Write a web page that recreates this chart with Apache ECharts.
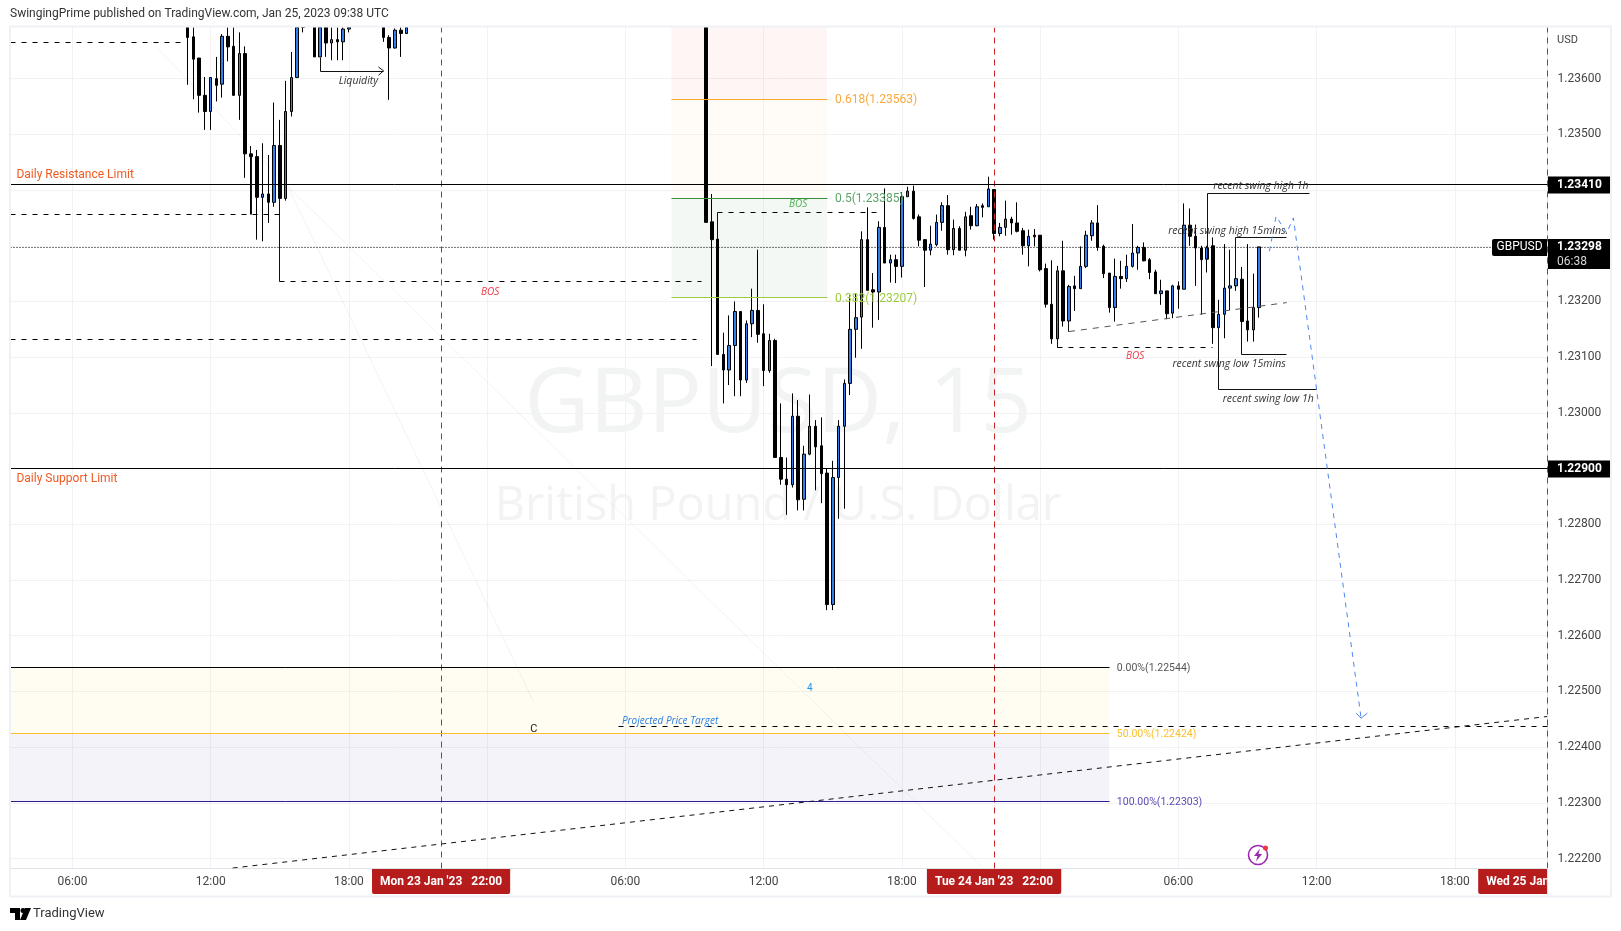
<!DOCTYPE html>
<html><head><meta charset="utf-8">
<style>html,body{margin:0;padding:0;background:#fff}#c{width:1621px;height:931px}</style>
<script src="https://cdn.jsdelivr.net/npm/echarts@6/dist/echarts.min.js"></script>
</head><body><div id="c"></div>
<script>
// x values are hours after Mon 23 Jan 2023 00:00; rows: [hour, open, close, low, high]
// prices that run off the top of the picture are held at the top of the visible range
const candlesLeft = [
[11,1.23692,1.23674,1.23589,1.23692],[11.25,1.23675,1.23635,1.23563,1.23692],[11.5,1.23637,1.2357,1.23539,1.23637],
[11.75,1.2357,1.23541,1.23508,1.23603],[12,1.23541,1.23602,1.23508,1.23602],[12.25,1.236,1.23588,1.23559,1.23639],
[12.5,1.2359,1.23676,1.23566,1.2368],[12.75,1.23676,1.23657,1.23631,1.23692],[13,1.23658,1.2357,1.2357,1.23692],
[13.25,1.2357,1.23645,1.23526,1.23683],[13.5,1.23645,1.23465,1.23422,1.23658],[13.75,1.23465,1.2346,1.23356,1.23479],
[14,1.2346,1.23387,1.23311,1.23472],[14.25,1.23387,1.23393,1.23308,1.23484],[14.5,1.23393,1.23378,1.23341,1.23463],
[14.75,1.23378,1.2348,1.2337,1.23557],[15,1.2348,1.23385,1.23382,1.23526],[15.25,1.23385,1.23541,1.23381,1.23596],
[15.5,1.23541,1.23602,1.23532,1.23648],[15.75,1.23602,1.23692,1.23601,1.23692],[16,1.23692,1.23692,1.23683,1.23692],
[16.5,1.23692,1.23639,1.23639,1.23692],[16.75,1.23639,1.23692,1.23639,1.23692],[17,1.23692,1.23664,1.23639,1.23692],
[17.25,1.23664,1.2367,1.23633,1.23692],[17.5,1.2367,1.23666,1.23633,1.23692],[17.75,1.23666,1.23689,1.23633,1.23692],
[18,1.23689,1.23692,1.23683,1.23692],[19.5,1.23692,1.23674,1.23666,1.23692],[19.75,1.23674,1.23655,1.23562,1.23678],
[20,1.23655,1.23687,1.23654,1.2369],[20.25,1.23687,1.23681,1.23639,1.23692],[20.5,1.23681,1.23692,1.2368,1.23692]
];
const candlesMiddle = [
[33.5,1.23692,1.23342,1.23342,1.23692],[33.75,1.23343,1.23311,1.23084,1.23393],[34,1.23312,1.23105,1.23105,1.23312],
[34.25,1.23105,1.23077,1.23017,1.23144],[34.5,1.23077,1.23121,1.2305,1.23175],[34.75,1.23121,1.23182,1.2303,1.232],
[35,1.23182,1.23059,1.2303,1.23182],[35.25,1.23059,1.2316,1.23054,1.23166],[35.5,1.2316,1.23184,1.23136,1.23223],
[35.75,1.23184,1.23141,1.23126,1.23293],[36,1.23142,1.23076,1.23048,1.23195],[36.25,1.23076,1.2313,1.23072,1.23142],
[36.5,1.2313,1.2292,1.2292,1.23133],[36.75,1.2292,1.22881,1.22871,1.23017],[37,1.22881,1.22871,1.22817,1.2292],
[37.25,1.22871,1.22994,1.22866,1.23035],[37.5,1.22994,1.22844,1.22825,1.23023],[37.75,1.22845,1.22926,1.22825,1.22941],
[38,1.22926,1.22976,1.22924,1.23033],[38.25,1.22976,1.22939,1.22861,1.22987],[38.5,1.22941,1.22891,1.22838,1.22992],
[38.75,1.22892,1.22656,1.22646,1.22901],[39,1.22656,1.22884,1.22646,1.22914],[39.25,1.22884,1.22976,1.2281,1.22987],
[39.5,1.22976,1.23053,1.22828,1.2306],[39.75,1.23053,1.2315,1.23032,1.23211],[40,1.2315,1.23171,1.23099,1.23214],
[40.25,1.23172,1.23311,1.23115,1.23326],[40.5,1.23311,1.2322,1.2322,1.23369],[40.75,1.23221,1.23217,1.23153,1.23251],
[41,1.23217,1.23333,1.23167,1.23344],[41.25,1.23333,1.23269,1.23269,1.23403],[41.5,1.23269,1.23275,1.23234,1.23284],
[41.75,1.23275,1.23263,1.23233,1.23284],[42,1.23263,1.23388,1.23243,1.23396],[42.25,1.23388,1.23398,1.23388,1.23406],
[42.5,1.23398,1.23349,1.23347,1.23408],[42.75,1.23352,1.2331,1.23299,1.23356],[43,1.23311,1.23292,1.23226,1.23312],
[43.25,1.23292,1.23303,1.23283,1.23336],[43.5,1.23302,1.23342,1.23299,1.23356],[43.75,1.23342,1.23372,1.23327,1.23378],
[44,1.23372,1.23293,1.23284,1.23391],[44.25,1.23293,1.23331,1.23283,1.23347],[44.5,1.23331,1.23292,1.23292,1.23335],
[44.75,1.23292,1.23352,1.23281,1.23361],[45,1.23354,1.23336,1.23329,1.2337],[45.25,1.23336,1.2337,1.23335,1.23375],
[45.5,1.23372,1.23369,1.23351,1.23376],[45.75,1.2337,1.23402,1.2337,1.23424]
];
const candlesRight = [
[46,1.23401,1.23322,1.23311,1.23401],[46.25,1.23322,1.23333,1.23317,1.23341],[46.5,1.23333,1.23348,1.23318,1.23381],
[46.75,1.23348,1.23341,1.2332,1.23352],[47,1.23341,1.23326,1.23324,1.23378],[47.25,1.23327,1.233,1.23284,1.23332],
[47.5,1.233,1.23317,1.23263,1.23329],[47.75,1.23319,1.23316,1.23299,1.2333],[48,1.23319,1.23257,1.23254,1.23319],
[48.25,1.23259,1.23195,1.23189,1.23268],[48.5,1.23195,1.23133,1.23124,1.23274],[48.75,1.23133,1.23255,1.23118,1.23264],
[49,1.23255,1.23165,1.23155,1.23309],[49.25,1.23165,1.23227,1.23146,1.2323],[49.5,1.23228,1.23223,1.23183,1.23246],
[49.75,1.23223,1.23263,1.23223,1.23299],[50,1.23263,1.23319,1.2326,1.23327],[50.25,1.23318,1.23341,1.23309,1.23346],
[50.5,1.23341,1.23297,1.23291,1.23373],[50.75,1.23299,1.2325,1.23242,1.23302],[51,1.23251,1.23189,1.2318,1.23251],
[51.25,1.23189,1.23245,1.23164,1.23277],[51.5,1.23245,1.23241,1.23223,1.23273],[51.75,1.23241,1.23263,1.23235,1.23284],
[52,1.23263,1.23287,1.23261,1.23339],[52.25,1.23287,1.23297,1.23257,1.233],[52.5,1.23297,1.23273,1.23272,1.23306],
[52.75,1.23275,1.23252,1.2324,1.23278],[53,1.23253,1.23214,1.23214,1.23257],[53.25,1.23214,1.23219,1.23194,1.23239],
[53.5,1.23219,1.23178,1.23168,1.23219],[53.75,1.23179,1.23228,1.2317,1.2323],[54,1.23228,1.23222,1.23187,1.23236],
[54.25,1.23222,1.23337,1.23222,1.23376],[54.5,1.23337,1.23317,1.233,1.23367],[54.75,1.23317,1.23296,1.23228,1.23338],
[55,1.23296,1.23275,1.23177,1.233],[55.25,1.23276,1.23296,1.23252,1.233],[55.5,1.233,1.23153,1.23124,1.23315],
[55.75,1.23153,1.23177,1.23132,1.23203],[56,1.23177,1.23224,1.23134,1.23303],[56.25,1.23224,1.23228,1.23184,1.23293],
[56.5,1.23228,1.23241,1.23219,1.23241],[56.75,1.2324,1.23164,1.23164,1.23262],[57,1.23165,1.23149,1.23128,1.23303],
[57.25,1.23149,1.23189,1.23128,1.2325],[57.5,1.23189,1.23298,1.23171,1.23298]
];

const X_MIN = 3.29, X_MAX = 70.02, Y_MIN = 1.221831, Y_MAX = 1.236927;
const priceTicks = [1.222,1.223,1.224,1.225,1.226,1.227,1.228,1.229,1.23,1.231,1.232,1.233,1.234,1.235,1.236];
const gridHours = [6,12,18,24,30,36,42,48,54,60,66];
const timeLabels = {6:'06:00',12:'12:00',18:'18:00',22:"Mon 23 Jan '23   22:00",30:'06:00',36:'12:00',42:'18:00',46:"Tue 24 Jan '23   22:00",54:'06:00',60:'12:00',66:'18:00',70:"Wed 25 Jan '23   22:00"};
const sessionHours = [22,46,70];
const resistance = 1.2341, support = 1.229, lastPrice = 1.23298;

// [h0, h1, pTop, pBottom]
const fibZones = [[32,38.75,Y_MAX,1.23563],[32,38.75,1.23563,1.23385],[32,38.75,1.23385,1.23207],
                  [X_MIN,51,1.22544,1.22424],[X_MIN,51,1.22424,1.22303]];
const fibZoneColors = ['rgba(244,67,54,0.05)','rgba(255,152,0,0.03)','rgba(46,125,50,0.05)','rgba(255,193,7,0.05)','rgba(49,27,146,0.05)'];
// [h0, h1, price]
const fibLevels = [[32,38.75,1.23563],[32,38.75,1.23385],[32,38.75,1.23207],[X_MIN,51,1.22544],[X_MIN,51,1.22424],[X_MIN,51,1.22303]];
const fibLevelColors = ['#ffa726','#388e3c','#9ccc3d','#000000','#fbc02d','#311b92'];

const dashedLines = [
 [[X_MIN,1.23665],[10.7,1.23665]],
 [[X_MIN,1.23356],[15,1.23356]],
 [[X_MIN,1.23133],[33.07,1.23133]],
 [[15,1.23236],[33.3,1.23236]],
 [[34,1.2336],[40.9,1.2336]],
 [[48.75,1.23118],[55.5,1.23118]],
 [[29.7,1.22437],[70,1.22437]]
];
const trendLines = [
 [[49.25,1.23146],[58.7,1.23198]],
 [[12.95,1.22183],[70,1.22455]]
];
const solidLines = [
 [[13.75,1.23356],[13.75,1.2346]],
 [[15,1.23236],[15,1.23385]],
 [[34,1.2336],[34,1.23312]],
 [[48.75,1.23118],[48.75,1.23133]],
 [[49.25,1.23146],[49.25,1.23165]],
 [[16.75,1.23639],[16.75,1.23614],[19.5,1.23614]],
 [[55.25,1.23276],[55.25,1.23394],[59.7,1.23394]],
 [[56.5,1.23241],[56.5,1.23315],[58.7,1.23315]],
 [[56.75,1.23164],[56.75,1.23106],[58.7,1.23106]],
 [[55.75,1.23153],[55.75,1.23043],[60,1.23043]],
 [[55,1.23275],[55,1.23177]]
];
const liquidityArrow = [[19.28,1.23621],[19.5,1.23614],[19.28,1.23606]];
const faintLines = [
 [[9.58,1.2366],[15.36,1.23406],[26.03,1.2248]],
 [[15.36,1.23406],[45.52,1.22183]]
];
const projectionPath = [[57.95,1.2329],[58.24,1.23353],[58.7,1.23323],[58.99,1.2335],[61.93,1.22452]];
const projectionArrow = [[61.72,1.22461],[61.93,1.22452],[62.2,1.22461]];

// [hour, price, text, kind]
const annotations = [
 [36.62,1.23012,'GBPUSD, 15','wm1'],[36.62,1.22831,'British Pound / U.S. Dollar','wm2'],
 [3.57,1.23429,'Daily Resistance Limit','daily'],[3.57,1.22883,'Daily Support Limit','daily'],
 [39.1,1.23563,'0.618(1.23563)','f618'],[39.1,1.23385,'0.5(1.23385)','f500'],[39.1,1.23207,'0.382(1.23207)','f382'],
 [51.33,1.22544,'0.00%(1.22544)','p0'],[51.33,1.22424,'50.00%(1.22424)','p50'],[51.33,1.22303,'100.00%(1.22303)','p100'],
 [37.5,1.23376,'BOS','bosG'],[24.13,1.23219,'BOS','bosR'],[52.12,1.23103,'BOS','bosR'],
 [18.41,1.23598,'Liquidity','note'],[57.58,1.23409,'recent swing high 1h','note'],[56.16,1.23328,'recent swing high 15mins.','note'],
 [56.2,1.23089,'recent swing low 15mins','note'],[57.9,1.23026,'recent swing low 1h','note'],
 [38,1.22507,'4','four'],[26.03,1.22434,'C','c'],[29.85,1.22449,'Projected Price Target','proj']
];
const F = 'Roboto, "Open Sans", sans-serif';
const kinds = {
 wm1:{font:'90px "Open Sans"',fill:'#f2f3f3',align:'center'}, wm2:{font:'47px "Open Sans"',fill:'#f2f3f3',align:'center'},
 daily:{font:'12px '+F,fill:'#ef5a24',align:'left'},
 f618:{font:'12px '+F,fill:'#f9a93b',align:'left'}, f500:{font:'12px '+F,fill:'#5ba56a',align:'left'}, f382:{font:'12px '+F,fill:'#9ccc3d',align:'left'},
 p0:{font:'10.5px '+F,fill:'#555',align:'left'}, p50:{font:'10.5px '+F,fill:'#fbc02d',align:'left'}, p100:{font:'10.5px '+F,fill:'#5e4bb5',align:'left'},
 bosG:{font:'italic 10px "Open Sans"',fill:'#4caf50',align:'center'}, bosR:{font:'italic 10px "Open Sans"',fill:'#f23645',align:'center'},
 note:{font:'italic 10.5px "Open Sans"',fill:'#333',align:'center'},
 four:{font:'10px '+F,fill:'#2196f3',align:'center'}, c:{font:'11px '+F,fill:'#222',align:'center'},
 proj:{font:'italic 10px "Open Sans"',fill:'#2b7de0',align:'left'}
};
// [price, text, sub text, kind]
const priceTags = [[resistance,'1.23410','','p'],[support,'1.22900','','p'],[lastPrice,'1.23298','06:38','p'],[lastPrice,'GBPUSD','','name']];

function lineSeries(points, color, width, type, z){
  return {type:'line',data:points,symbol:'none',silent:true,animation:false,clip:true,z:z,
          lineStyle:{color:color,width:width,type:type}};
}
// horizontal / vertical drawings, snapped to whole pixels so they stay as crisp as the original
function crispSeries(paths, color, dash, z){
  return {type:'custom',coordinateSystem:'cartesian2d',silent:true,animation:false,z:z,
    data:paths.map(p=>p[0]),encode:{x:0,y:1},
    renderItem(params,api){
      const pts=paths[params.dataIndex].map(p=>{const c=api.coord(p);return [Math.floor(c[0])+0.5,Math.floor(c[1]+0.2)+0.5];});
      return {type:'polyline',silent:true,shape:{points:pts},style:{stroke:color,fill:null,lineWidth:1,lineDash:dash||null}};
    }};
}
function textSeries(from, to, z, dy){
  const rows=annotations.slice(from,to);
  return {type:'custom',coordinateSystem:'cartesian2d',silent:true,animation:false,z:z,
    data:rows.map(a=>[a[0],a[1]]),encode:{x:0,y:1},
    renderItem(params,api){const a=rows[params.dataIndex];const k=kinds[a[3]];const pos=api.coord([a[0],a[1]]);
      return {type:'text',silent:true,style:{x:pos[0],y:pos[1]+dy,text:a[2],font:k.font,fill:k.fill,align:k.align,verticalAlign:'middle'}};}};
}
const series = [];
series.push(textSeries(0,2,1,0));
series.push({type:'custom',coordinateSystem:'cartesian2d',silent:true,animation:false,z:1,
  data:fibZones,encode:{x:[0,1],y:[2,3]},
  renderItem(params,api){const a=api.coord([api.value(0),api.value(2)]);const b=api.coord([api.value(1),api.value(3)]);
    return {type:'rect',silent:true,shape:{x:a[0],y:a[1],width:b[0]-a[0],height:b[1]-a[1]},style:{fill:fibZoneColors[params.dataIndex]}};}});
faintLines.forEach(l=>series.push(lineSeries(l,'rgba(0,0,0,0.05)',1,'solid',2)));
[candlesLeft,candlesMiddle,candlesRight].forEach(c=>series.push({type:'candlestick',data:c,encode:{x:0,y:[1,2,3,4]},barWidth:3,silent:true,animation:false,clip:true,z:3,
  itemStyle:{color:'#2f80ed',color0:'#000000',borderColor:'#000000',borderColor0:'#000000',borderWidth:1}}));
series.push(crispSeries(sessionHours.map(h=>[[h,Y_MIN],[h,Y_MAX]]),'#c62828',[6,5],4));
fibLevels.forEach((l,i)=>series.push(crispSeries([[[l[0],l[2]],[l[1],l[2]]]],fibLevelColors[i],null,4)));
series.push(crispSeries([[[X_MIN,resistance],[70,resistance]],[[X_MIN,support],[70,support]]],'#000',null,4));
series.push(crispSeries([[[X_MIN,lastPrice],[67.6,lastPrice]]],'#000',[1,2],4));
series.push(crispSeries(dashedLines,'#000',[5,6],4));
series.push(lineSeries(trendLines[0],'#555',1,[6,6],4));
series.push(lineSeries(trendLines[1],'#111',1,[5,5],4));
series.push(crispSeries(solidLines,'#111',null,4));
series.push(lineSeries(liquidityArrow,'#111',1,'solid',4));
series.push(lineSeries(projectionPath,'#4f86f0',1,[5,5],4));
series.push(lineSeries(projectionArrow,'#4f86f0',1,'solid',4));
series.push(textSeries(2,annotations.length,6,1));
series.push({type:'custom',coordinateSystem:'cartesian2d',silent:true,animation:false,z:8,
  data:priceTags.map(t=>[X_MAX,t[0]]),encode:{x:0,y:1},clip:false,
  renderItem(params,api){const t=priceTags[params.dataIndex];const pos=api.coord([70,t[0]]);const x=Math.round(pos[0])+1;const y=pos[1];
    const kids=[];
    if(t[3]==='name'){
      kids.push({type:'rect',shape:{x:x-56,y:y-8,width:55,height:17,r:[2,0,0,2]},style:{fill:'#000'}});
      kids.push({type:'text',style:{x:x-28.5,y:y+0.5,text:t[1],font:'12px '+F,fill:'#fff',align:'center',verticalAlign:'middle'}});
    } else {
      const h=t[2]?30:17;
      kids.push({type:'rect',shape:{x:x,y:y-8,width:63,height:h},style:{fill:'#000'}});
      kids.push({type:'text',style:{x:x+9,y:y+0.5,text:t[1],font:'bold 12px '+F,fill:'#fff',align:'left',verticalAlign:'middle'}});
      if(t[2])kids.push({type:'text',style:{x:x+9,y:y+15,text:t[2],font:'12px '+F,fill:'#d8d8d8',align:'left',verticalAlign:'middle'}});
    }
    return {type:'group',silent:true,children:kids};}});

const option = {
  animation:false,backgroundColor:'#ffffff',
  title:{text:'SwingingPrime published on TradingView.com, Jan 25, 2023 09:38 UTC',left:10,top:8,padding:0,
         textStyle:{fontFamily:F,fontSize:12,fontWeight:'normal',color:'#333'}},
  grid:{left:10,right:73.5,top:27,bottom:63,containLabel:false,show:false},
  xAxis:{type:'value',min:X_MIN,max:X_MAX,
    axisLine:{show:true,onZero:false,lineStyle:{color:'#dfe2e8',width:1}},axisTick:{show:false,customValues:gridHours},
    splitLine:{show:true,lineStyle:{color:'#f2f2f4',width:1}},
    axisLabel:{customValues:[6,12,18,30,36,42,54,60,66].concat(sessionHours),hideOverlap:false,showMinLabel:true,showMaxLabel:true,margin:1,fontFamily:F,fontSize:12,color:'#444',
      formatter:v=>{const s=timeLabels[v];return sessionHours.indexOf(v)>=0?'{tag|'+s+'}':'{plain|'+s+'}';},
      rich:{tag:{backgroundColor:'#b71c1c',color:'#fff',fontFamily:F,fontSize:12,fontWeight:'bold',padding:[7,8,6,8],borderRadius:[0,0,2,2]},
            plain:{color:'#444',fontFamily:F,fontSize:12,padding:[7,0,6,0]}}}},
  yAxis:{type:'value',position:'right',min:Y_MIN,max:Y_MAX,scale:true,
    axisLine:{show:true,onZero:false,lineStyle:{color:'#dfe2e8',width:1}},axisTick:{show:false,customValues:priceTicks},
    splitLine:{show:true,lineStyle:{color:'#f2f2f4',width:1}},
    axisLabel:{customValues:priceTicks,margin:10,padding:[2,0,0,0],fontFamily:F,fontSize:12,color:'#444',align:'left',formatter:v=>v.toFixed(5)}},
  series:series,
  graphic:[
    {type:'rect',silent:true,z:90,shape:{x:1548,y:869,width:73,height:27},style:{fill:'#fff'}},
    {type:'line',silent:true,z:91,shape:{x1:1547.5,y1:868,x2:1547.5,y2:896},style:{stroke:'#dfe2e8',lineWidth:1}},
    {type:'rect',silent:true,z:92,shape:{x:10,y:26.5,width:1601,height:870},style:{fill:'none',stroke:'#eff1f6',lineWidth:2}},
    {type:'text',silent:true,z:92,style:{x:1557,y:40,text:'USD',font:'11px '+F,fill:'#444',verticalAlign:'middle'}},
    {type:'polygon',silent:true,z:92,shape:{points:[[10,908],[20,908],[20,920],[15,920],[15,913],[10,913]]},style:{fill:'#000'}},
    {type:'circle',silent:true,z:92,shape:{cx:23,cy:910.5,r:2.5},style:{fill:'#000'}},
    {type:'polygon',silent:true,z:92,shape:{points:[[25,908],[31,908],[26,920],[20,920]]},style:{fill:'#000'}},
    {type:'text',silent:true,z:92,style:{x:33,y:914,text:'TradingView',font:'13px '+F,fill:'#333',verticalAlign:'middle'}},
    {type:'circle',silent:true,z:92,shape:{cx:1258,cy:855,r:9.5},style:{fill:'#fff',stroke:'#9c27b0',lineWidth:1.6}},
    {type:'polygon',silent:true,z:93,shape:{points:[[1260,848.5],[1254,856],[1257.5,856],[1256,861.5],[1262,854],[1258.5,854]]},style:{fill:'#9c27b0'}},
    {type:'circle',silent:true,z:94,shape:{cx:1265.5,cy:848,r:2.5},style:{fill:'#f23645'}}
  ]
};
echarts.init(document.getElementById('c'),null,{renderer:'canvas'}).setOption(option);
</script></body></html>
